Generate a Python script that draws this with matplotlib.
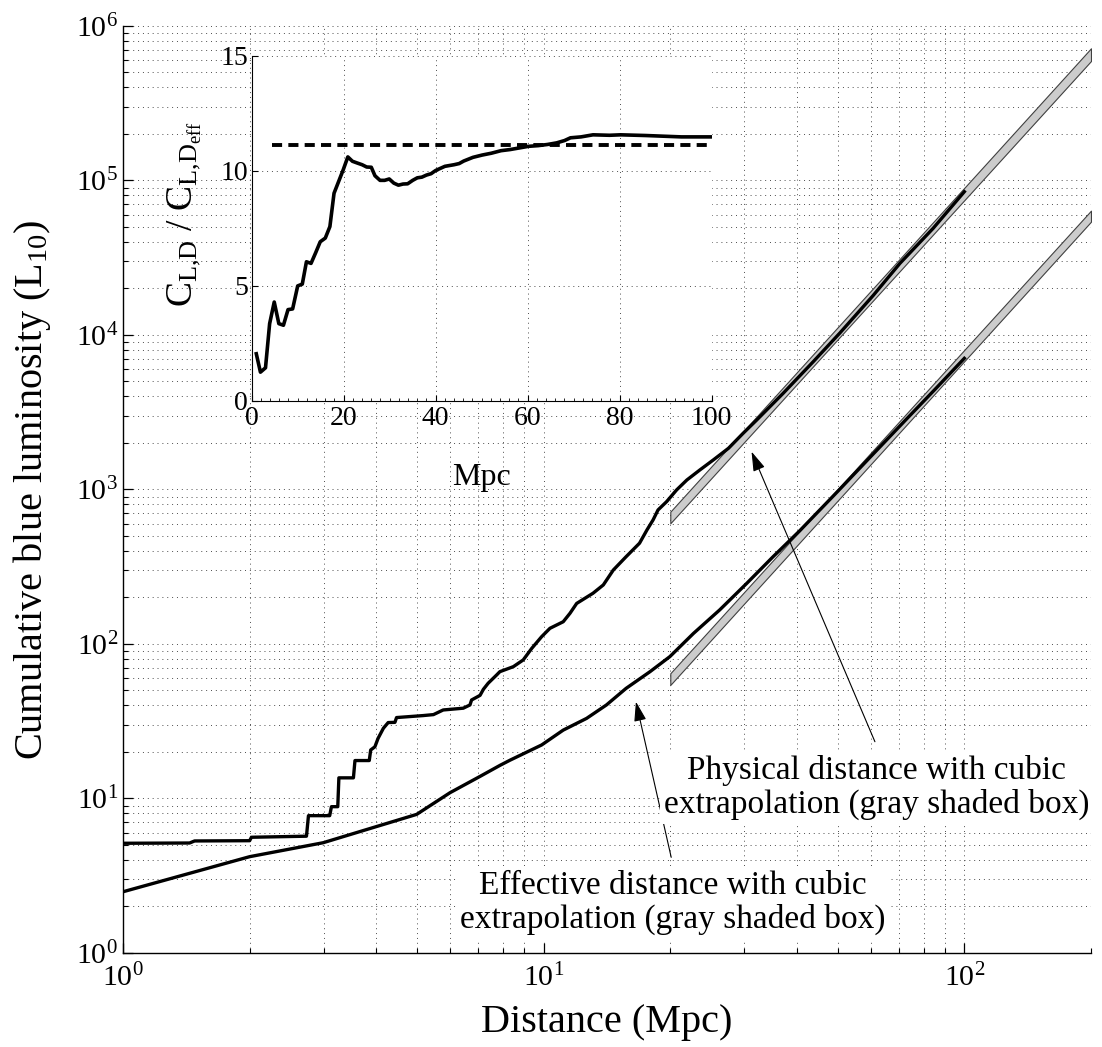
import matplotlib
matplotlib.use("Agg")
import matplotlib.pyplot as plt
from matplotlib.ticker import LogLocator, NullFormatter, MultipleLocator

plt.rcParams['font.family'] = ['Liberation Serif', 'DejaVu Serif']
plt.rcParams['mathtext.fontset'] = 'custom'
plt.rcParams['mathtext.rm'] = 'Liberation Serif'
plt.rcParams['mathtext.it'] = 'Liberation Serif:italic'
plt.rcParams['mathtext.bf'] = 'Liberation Serif:bold'

# ---------------- data ----------------
phys_x = [1.0, 1.44, 1.48, 2.0, 2.02, 2.73, 2.76, 3.10, 3.13, 3.24, 3.26, 3.53, 3.56, 3.85, 3.88,
          3.97, 4.04, 4.16, 4.27, 4.43, 4.47, 5.17, 5.47, 5.77, 6.44, 6.68, 6.74, 7.06, 7.19, 7.38,
          7.73, 7.87, 8.47, 8.94, 9.37, 9.89, 10.35, 11.13, 11.55, 11.98, 13.1, 13.86, 14.64, 15.7,
          16.9, 17.6, 18.2, 18.7, 19.6, 20.7, 21.9, 23.5, 25.3, 27.5, 29.8, 32.1, 37.1, 43.7, 50.6,
          60.7, 70.3, 84.3, 100]
phys_y = [5.13, 5.15, 5.31, 5.33, 5.61, 5.70, 7.74, 7.74, 8.85, 8.85, 13.6, 13.6, 17.6, 17.6, 20.6,
          21.6, 24.5, 28.5, 31.0, 31.1, 33.4, 34.4, 34.9, 37.4, 38.4, 40.3, 43.4, 46.5, 50.9, 55.7,
          63.0, 66.2, 71.3, 78.8, 93.7, 111.5, 126.3, 139.3, 158, 183, 213, 241, 301, 367,
          449, 547, 635, 737, 834, 993, 1152, 1336, 1552, 1848, 2312, 2818, 4195, 6700, 10300,
          18000, 29100, 49000, 84600]

eff_x = [1.0, 2.0, 2.99, 4.99, 5.99, 7.06, 7.88, 8.32, 9.89, 11.13, 12.65, 14.1, 15.7, 17.9,
         19.95, 22.7, 26.2, 30.4, 35.1, 40.6, 50, 60, 72.9, 85, 100]
eff_y = [2.49, 4.20, 5.17, 7.89, 10.9, 13.9, 16.4, 17.7, 22.2, 27.7, 33.0, 40.3, 51.6, 66.2,
         82.8, 117, 166, 247, 367, 540, 972, 1640, 2860, 4420, 7060]

# gray shaded boxes (cubic extrapolation), values at x = 20 and x = 200
box_x = [20, 200]
phys_box_lo = [604, 5.93e5]
phys_box_hi = [718, 7.17e5]
eff_box_lo = [54.3, 5.41e4]
eff_box_hi = [64.6, 6.38e4]

# inset: ratio C_L,D / C_L,Deff
ratio_x = [1.0, 1.9, 3.0, 3.9, 4.9, 5.9, 6.9, 7.9, 8.9, 10.0, 11.0, 11.9, 12.9, 13.9, 14.9,
           16.0, 17.0, 17.9, 18.9, 19.9, 20.9, 21.9, 23.0, 24.0, 25.0, 26.0, 26.8, 27.9, 28.9,
           29.9, 30.9, 31.9, 32.9, 33.9, 35.0, 36.0, 37.0, 38.0, 39.0, 40.0, 42.0, 44.0, 45.1,
           46.1, 48.1, 50.1, 52.1, 54.2, 56.2, 58.2, 60.2, 62.3, 64.3, 66.3, 68.0, 69.3, 71.6,
           74.2, 77.8, 80.2, 85.6, 89.5, 93.4, 100]
ratio_y = [2.04, 1.24, 1.43, 3.35, 4.29, 3.35, 3.28, 3.96, 3.99, 4.99, 5.07, 6.04, 5.97, 6.43,
           6.91, 7.07, 7.57, 9.02, 9.53, 10.04, 10.60, 10.41, 10.33, 10.26, 10.16, 10.15, 9.78,
           9.58, 9.58, 9.64, 9.46, 9.37, 9.42, 9.43, 9.58, 9.69, 9.72, 9.81, 9.87, 10.01, 10.19,
           10.26, 10.31, 10.42, 10.58, 10.68, 10.76, 10.87, 10.92, 10.99, 11.06, 11.09, 11.14,
           11.21, 11.31, 11.43, 11.47, 11.56, 11.54, 11.56, 11.53, 11.50, 11.47, 11.47]
ratio_mean_x = [4.35, 100]
ratio_mean_y = [11.13, 11.13]

inset_xticks = [0, 20, 40, 60, 80, 100]
inset_yticks = [0, 5, 10, 15]

phys_label = 'Physical distance with cubic\nextrapolation (gray shaded box)'
eff_label = 'Effective distance with cubic\nextrapolation (gray shaded box)'
phys_arrow_head = (31.2, 1757)
phys_arrow_tail = (61.3, 23.3)
phys_text_pos = (61.8, 11.8)
eff_arrow_head = (16.57, 42.3)
eff_arrow_tail = (20.1, 4.16)
eff_text_pos = (20.25, 2.12)

# ---------------- figure ----------------
fig = plt.figure(figsize=(11.02, 10.47), dpi=100)
ax = fig.add_axes([0.1116, 0.0898, 0.8784, 0.8854])
ax.set_xscale('log')
ax.set_yscale('log')
ax.set_xlim(1, 200)
ax.set_ylim(1, 1e6)

ax.xaxis.set_major_locator(LogLocator(base=10, numticks=10))
ax.xaxis.set_minor_locator(LogLocator(base=10, subs=range(2, 10), numticks=30))
ax.yaxis.set_major_locator(LogLocator(base=10, numticks=10))
ax.yaxis.set_minor_locator(LogLocator(base=10, subs=range(2, 10), numticks=30))
ax.xaxis.set_minor_formatter(NullFormatter())
ax.yaxis.set_minor_formatter(NullFormatter())

gridstyle = dict(linestyle=(0, (1, 4)), color='0.3', linewidth=0.7)
ax.grid(True, which='both', **gridstyle)
ax.set_axisbelow(True)

for s in ['top', 'right']:
    ax.spines[s].set_visible(False)
for s in ['left', 'bottom']:
    ax.spines[s].set_linewidth(1.0)

ax.tick_params(which='both', direction='in', top=False, right=False, labelsize=21.5)
ax.tick_params(which='major', length=7, width=0.9)
ax.tick_params(which='minor', length=3.5, width=0.8)
ax.tick_params(axis='x', which='major', pad=8)
ax.tick_params(axis='y', which='major', pad=3.5)

ax.fill_between(box_x, phys_box_lo, phys_box_hi, facecolor='0.8', edgecolor='0.25',
                linewidth=0.8, zorder=2)
ax.fill_between(box_x, eff_box_lo, eff_box_hi, facecolor='0.8', edgecolor='0.25',
                linewidth=0.8, zorder=2)

ax.plot(phys_x, phys_y, color='k', lw=2.4, zorder=3, solid_joinstyle='round')
ax.plot(eff_x, eff_y, color='k', lw=2.4, zorder=3, solid_joinstyle='round')

arrowprops = dict(arrowstyle='-|>,head_length=0.8,head_width=0.25', color='k', lw=0.8,
                  mutation_scale=15, shrinkA=0, shrinkB=0)
ax.annotate('', xy=phys_arrow_head, xytext=phys_arrow_tail, arrowprops=arrowprops, zorder=4)
ax.annotate('', xy=eff_arrow_head, xytext=eff_arrow_tail, arrowprops=arrowprops, zorder=4)

tbox = dict(boxstyle='square,pad=0.12', facecolor='white', edgecolor='none')
ax.text(*phys_text_pos, phys_label, ha='center', va='center', fontsize=24,
        linespacing=1.1, bbox=tbox, zorder=5)
ax.text(*eff_text_pos, eff_label, ha='center', va='center', fontsize=24,
        linespacing=1.1, bbox=tbox, zorder=5)

ax.set_xlabel('Distance (Mpc)', fontsize=29)
ax.xaxis.set_label_coords(0.5, -0.055)
ax.set_ylabel(r'Cumulative blue luminosity (L$_{\mathregular{10}}$)', fontsize=29)
ax.yaxis.set_label_coords(-0.072, 0.5)

# ---------------- inset ----------------
axin = fig.add_axes([0.2284, 0.6173, 0.4174, 0.3295])
axin.set_facecolor('white')
axin.set_xlim(0, 100)
axin.set_ylim(0, 15)
axin.set_xticks(inset_xticks)
axin.set_yticks(inset_yticks)
axin.xaxis.set_minor_locator(MultipleLocator(2))
axin.grid(True, which='major', **gridstyle)
axin.set_axisbelow(True)
for s in ['top', 'right']:
    axin.spines[s].set_visible(False)
axin.tick_params(which='both', direction='in', top=False, right=False, labelsize=20)
axin.tick_params(which='major', length=4, width=0.8)
axin.tick_params(which='minor', length=2, width=0.6)
axin.tick_params(axis='x', pad=4)
axin.tick_params(axis='y', pad=2.5)

axin.plot(ratio_x, ratio_y, color='k', lw=2.6, zorder=3)
axin.plot(ratio_mean_x, ratio_mean_y, color='k', lw=2.8, dashes=(2.6, 1.6), zorder=3)

axin.set_xlabel('Mpc', fontsize=23)
axin.xaxis.set_label_coords(0.5, -0.18)
axin.set_ylabel(r'$\mathregular{C_{L{,}D}\ /\ C_{L{,}D_{eff}}}$', fontsize=27)
axin.yaxis.set_label_coords(-0.106, 0.54)

fig.savefig('out.png', dpi=100)
